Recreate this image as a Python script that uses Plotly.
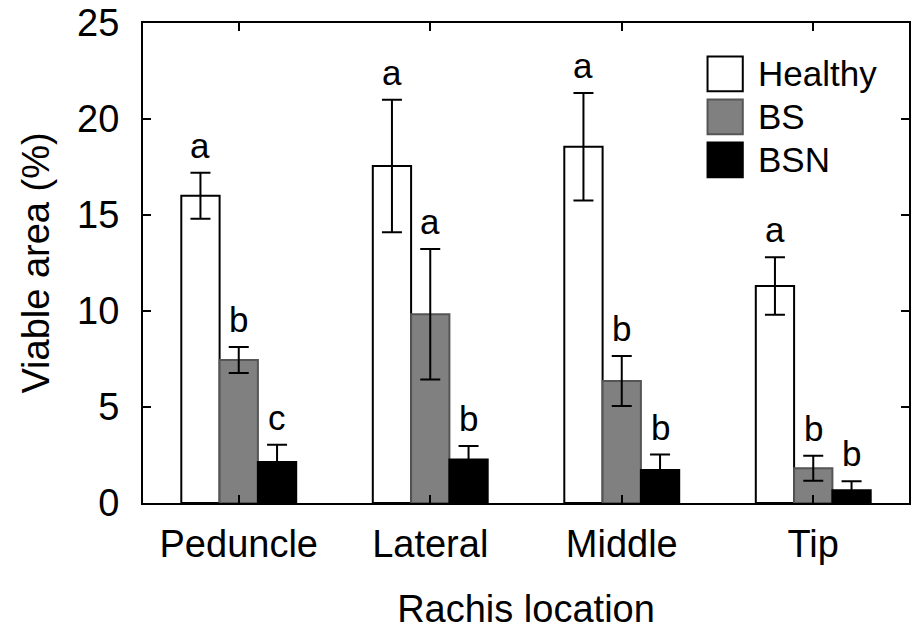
import plotly.graph_objects as go

categories = ["Peduncle", "Lateral", "Middle", "Tip"]
series_names = ["Healthy", "BS", "BSN"]
healthy = [16.0, 17.55, 18.55, 11.3]
healthy_err = [1.2, 3.45, 2.8, 1.5]
bs = [7.45, 9.83, 6.35, 1.81]
bs_err = [0.68, 3.4, 1.3, 0.65]
bsn = [2.14, 2.27, 1.72, 0.66]
bsn_err = [0.9, 0.7, 0.8, 0.47]
healthy_letters = ["a", "a", "a", "a"]
bs_letters = ["b", "a", "b", "b"]
bsn_letters = ["c", "b", "b", "b"]
y_ticks = [0, 5, 10, 15, 20, 25]

FONT = "Liberation Sans, Arial, sans-serif"
fills = ["#ffffff", "#808080", "#000000"]
outlines = ["#000000", "#555555", "#000000"]
values = [healthy, bs, bsn]
errors = [healthy_err, bs_err, bsn_err]
letters = [healthy_letters, bs_letters, bsn_letters]

xpos = list(range(len(categories)))
bargap = 0.4
bw = (1 - bargap) / 3

fig = go.Figure()
for j, name in enumerate(series_names):
    fig.add_trace(go.Bar(
        x=xpos, y=values[j], name=name,
        marker=dict(color=fills[j], line=dict(color=outlines[j], width=2)),
        error_y=dict(type="data", array=errors[j], visible=True,
                     color="black", thickness=2, width=10),
        showlegend=False,
    ))

annotations = []
for j in range(3):
    for i in xpos:
        annotations.append(dict(
            x=i + (j - 1) * bw, y=values[j][i] + errors[j][i],
            xref="x", yref="y", text=letters[j][i], showarrow=False,
            yanchor="bottom", yshift=6,
            font=dict(family=FONT, size=35, color="black")))

# manual legend
lx0, lx1 = 0.737, 0.783
top = 0.93
pitch = 0.0896
sh = 0.072
shapes = []
for j, name in enumerate(series_names):
    y1 = top - j * pitch
    y0 = y1 - sh
    shapes.append(dict(type="rect", xref="paper", yref="paper",
                       x0=lx0, x1=lx1, y0=y0, y1=y1,
                       fillcolor=fills[j], line=dict(color=outlines[j], width=2)))
    annotations.append(dict(x=0.8, y=(y0 + y1) / 2, xref="paper", yref="paper",
                            text=name, showarrow=False, xanchor="left",
                            yanchor="middle",
                            font=dict(family=FONT, size=35, color="black")))

fig.update_layout(
    width=917, height=630,
    margin=dict(l=143, r=8, t=23, b=127),
    plot_bgcolor="white", paper_bgcolor="white",
    barmode="group", bargap=bargap, bargroupgap=0,
    font=dict(family=FONT, size=38, color="black"),
    annotations=annotations, shapes=shapes,
    xaxis=dict(tickvals=xpos, ticktext=categories, range=[-0.5, 3.5],
               showline=True, linecolor="black", linewidth=2, mirror="ticks",
               ticks="inside", ticklen=8, tickwidth=2, tickcolor="black",
               showgrid=False, zeroline=False, automargin=False,
               ticklabelstandoff=6,
               tickfont=dict(family=FONT, size=38),
               title=dict(text="Rachis location", font=dict(family=FONT, size=38),
                          standoff=32)),
    yaxis=dict(range=[0, 25], tickvals=y_ticks,
               showline=True, linecolor="black", linewidth=2, mirror="ticks",
               ticks="inside", ticklen=8, tickwidth=2, tickcolor="black",
               showgrid=False, zeroline=False, ticklabelstandoff=14,
               automargin=False,
               tickfont=dict(family=FONT, size=38),
               title=dict(text="Viable area (%)", font=dict(family=FONT, size=38),
                          standoff=16)),
)

fig.write_html("out.html")
